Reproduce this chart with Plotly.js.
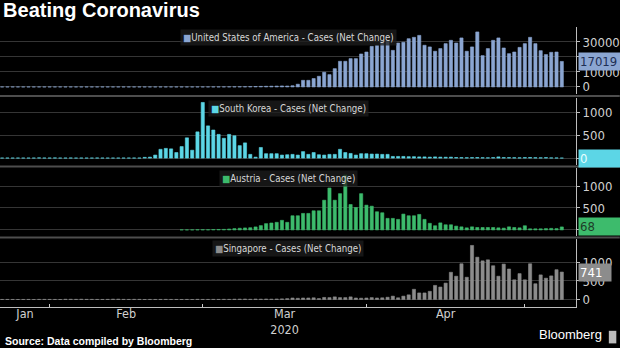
<!DOCTYPE html>
<html><head><meta charset="utf-8">
<script src="https://cdn.plot.ly/plotly-3.0.1.min.js"></script>
<style>html,body{margin:0;padding:0;background:#000;}#chart{width:620px;height:348px;}</style>
</head><body><div id="chart"></div>
<script>
// ---- categories: one bar per day, Jan 23 .. May 8, 2020 ----
const firstDay = '2020-01-23';
const dayCount = 107;
const days = [];
for (let i = 0; i < dayCount; i++) {
  const d = new Date(Date.parse(firstDay + 'T00:00:00Z') + i * 86400000);
  days.push(d.toISOString().slice(0, 10));
}

// ---- series (daily new cases) ----
const usCases = [
  0,1,0,1,0,0,0,1,0,
  1,0,3,0,0,0,0,0,0,0, 1,0,0,0,0,0,0,0,0,0, 0,0,0,0,0,1,0,1,4,
  5,20,25,30,50,70,90,110,140,200, 280,350,420,480,550,650,600,800,1800,4400,
  4400,5600,7100,9800,8200,12200,17100,17100,18900,18900, 22000,
  23300,27100,27600,30400,30400,24400,29300,29800,32200,33100,
  34400,27800,26700,23800,25600,28900,31100,29300,32700,23800,
  26700,36700,20900,25600,31100,32700,26000,22200,23300,26400,
  28900,33100,28900,24200,21600,23100,23300,17019
];
const koreaCases = [
  0,1,0,1,0,0,0,4,1,
  1,3,0,0,2,0,1,0,0,2, 0,0,0,0,0,1,1,1,
  15,20,65,190,210,200,120,250,440,170,570,
  1210,700,610,515,430,515,485,270,330,80, 20,230,95,95,95,65,72,80,65,140,
  80,120,72,65,80,80,190,120,100,65, 95,
  95,87,87,80,80,35,35,35,30,30, 25,25,20,25,20,18,20,12,10,8,
  10,12,8,6,10,25,10,10,8,6,
  10,12,8,6,10,4,3,0
];
const austriaCases = [
  null,null,null,null,null,null,null,null,null,
  null,null,null,null,null,null,null,null,null,null, null,null,null,null,null,null,null,null,null,null,
  null,null,null,null,null, 2,1,2,4,
  5,4,8,10,12,20,30,38,45,50, 68,98,143,158,173,218,173,323,323,376,
  376,436,436,677,955,677,827,1250,579,511, 827,
  564,541,414,391,263,263,240,361,323,323, 353,240,150,95,160,117,117,86,70,47,
  70,55,55,55,55,47,40,70,55,47,
  95,25,25,25,30,35,30,68
];
const singaporeCases = [
  1,2,1,0,1,2,0,3,3,
  2,1,0,6,6,4,7,3,3,2, 1,3,9,9,3,2,4,3,0,2, 1,2,3,1,1,0,2,0,4,
  2,2,3,2,5,3,8,10,12,6, 12,9,13,9,14,17,23,40,32,40,
  40,45,25,55,50,70,50,50,70,40, 35,
  40,50,40,45,60,90,45,90,125,275, 177,177,220,380,336,442,735,628,965,600,
  1460,1142,1044,1071,911,628,956,823,531,699,
  531,965,425,664,575,637,805,741
];

const seriesNames = [
  'United States of America - Cases (Net Change)',
  'South Korea - Cases (Net Change)',
  'Austria - Cases (Net Change)',
  'Singapore - Cases (Net Change)'
];
const seriesColors = ['#8ba6d2', '#5cd6e6', '#3dbb6c', '#8c8c8c'];
const labelTextColors = ['#1e2f55', '#e8ffff', '#1d3d28', '#ffffff'];

// ---- axis ticks ----
const monthStarts = ['2020-02-01', '2020-03-01', '2020-04-01', '2020-05-01'];
const monthLabelAt = ['2020-01-27 08:00', '2020-02-15 12:00', '2020-03-16 12:00', '2020-04-16'];
const monthLabels = ['Jan', 'Feb', 'Mar<br>2020', 'Apr'];
const usTicks = [0, 10000, 20000, 30000];
const smallTicks = [0, 500, 1000];

const allSeries = [usCases, koreaCases, austriaCases, singaporeCases];
const NARROW = "'Liberation Sans Narrow', 'Arial Narrow', 'DejaVu Sans Condensed', sans-serif";
const SANS = "'Liberation Sans', Arial, sans-serif";
const xRange = ['2020-01-22 14:24', '2020-05-10 16:34'];

const axisIds = ['y', 'y2', 'y3', 'y4'];
const traces = allSeries.map((vals, i) => ({
  type: 'bar', x: days, y: vals, xaxis: 'x', yaxis: axisIds[i],
  marker: {color: seriesColors[i], line: {color: seriesColors[i], width: 0.6}},
  hoverinfo: 'x+y', showlegend: false
}));
// empty helper trace so the month-label axis is drawn
traces.push({type: 'scatter', mode: 'markers', x: monthLabelAt, y: monthLabelAt.map(() => null),
  xaxis: 'x2', yaxis: 'y4', hoverinfo: 'skip', showlegend: false, marker: {opacity: 0}});

function yAxis(domain, range, tickvals) {
  return {
    domain: domain, range: range, side: 'right', anchor: 'x',
    tickvals: tickvals, ticks: 'outside', ticklen: 3, tickcolor: '#bdbdbd',
    showline: true, linecolor: '#bdbdbd', linewidth: 1, exponentformat: 'none', tickformat: 'd',
    showgrid: true, gridcolor: '#353535', gridwidth: 1, zeroline: false,
    tickfont: {family: NARROW, size: 13, color: '#d0d0d0'}, fixedrange: true
  };
}

const annotations = [];
seriesNames.forEach((name, i) => {
  annotations.push({
    xref: 'paper', x: 0.5, xanchor: 'center',
    yref: (i === 0 ? 'y' : 'y' + (i + 1)) + ' domain', y: 1, yshift: -10, yanchor: 'middle',
    text: '<span style="color:' + seriesColors[i] + '">■</span>' + name,
    showarrow: false, bgcolor: 'rgba(30,30,30,0.75)', borderpad: 2,
    font: {family: NARROW, size: 9.6, color: '#d8d8d8'}
  });
  const vals = allSeries[i];
  const last = vals[vals.length - 1];
  annotations.push({
    xref: 'paper', x: 1, xanchor: 'left', xshift: 2,
    yref: axisIds[i], y: last, yanchor: 'middle',
    text: String(last), showarrow: false, align: 'left',
    width: i === 3 ? 30 : 44, bgcolor: seriesColors[i], borderpad: 1,
    font: {family: NARROW, size: 13, color: labelTextColors[i]}
  });
});
annotations.push({
  xref: 'paper', x: 0, xshift: 3, xanchor: 'left', yref: 'paper', y: 0, yshift: -34, yanchor: 'middle',
  text: '<b>Source: Data compiled by Bloomberg</b>', showarrow: false,
  font: {family: SANS, size: 10.5, color: '#ffffff'}
});
annotations.push({
  xref: 'paper', x: 1, xshift: 28, xanchor: 'right', yref: 'paper', y: 0, yshift: -27, yanchor: 'middle',
  text: 'Bloomberg', showarrow: false,
  font: {family: SANS, size: 13, color: '#ffffff'}
});

const sepY = [0.7536, 0.5018, 0.248];
const shapes = sepY.map(v => ({
  type: 'line', xref: 'paper', yref: 'paper', x0: 0, x1: 1.076, y0: v, y1: v,
  line: {color: '#4d4d4d', width: 2}
}));
shapes.push({type: 'rect', xref: 'paper', yref: 'paper', x0: 1.057, x1: 1.07, y0: -0.085, y1: -0.13,
  line: {width: 0}, fillcolor: '#bbbbbb'});

const layout = {
  width: 620, height: 348,
  paper_bgcolor: '#000', plot_bgcolor: '#000',
  margin: {l: 0, r: 44, t: 27, b: 41},
  title: {text: '<b>Beating Coronavirus</b>', x: 0.005, xref: 'container', xanchor: 'left',
          y: 0.99, yref: 'container', yanchor: 'top',
          font: {family: SANS, size: 20, color: '#ffffff'}},
  bargap: 0.4,
  showlegend: false,
  xaxis: {type: 'date', range: xRange, domain: [0, 1], anchor: 'y4',
          tickvals: monthStarts, showticklabels: false, ticks: 'inside', ticklen: 3, tickcolor: '#cccccc',
          showline: true, linecolor: '#bdbdbd', linewidth: 1, showgrid: false, zeroline: false, fixedrange: true},
  xaxis2: {type: 'date', range: xRange, overlaying: 'x', anchor: 'y4', side: 'bottom',
           tickvals: monthLabelAt, ticktext: monthLabels, ticks: '', showline: false, showgrid: false,
           ticklabelstandoff: -3,
           zeroline: false, tickfont: {family: NARROW, size: 12.5, color: '#d0d0d0'}, fixedrange: true},
  yaxis: yAxis([0.761, 1.0], [-4667, 40000], usTicks),
  yaxis2: yAxis([0.507, 0.746], [-152, 1304], smallTicks),
  yaxis3: yAxis([0.254, 0.496], [-136, 1409], smallTicks),
  yaxis4: yAxis([0, 0.243], [-203, 1635], smallTicks),
  annotations: annotations,
  shapes: shapes
};

Plotly.newPlot('chart', traces, layout, {displayModeBar: false, staticPlot: true});
</script>
</body></html>
